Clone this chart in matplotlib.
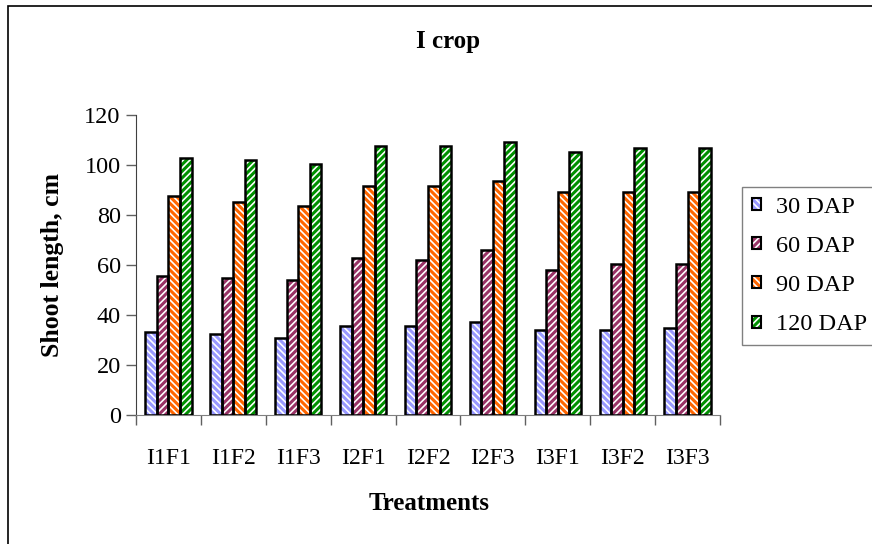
import numpy as np
import matplotlib
matplotlib.use('Agg')
import matplotlib.pyplot as plt
from matplotlib.patches import Rectangle, Patch

treatments = ['I1F1', 'I1F2', 'I1F3', 'I2F1', 'I2F2', 'I2F3', 'I3F1', 'I3F2', 'I3F3']
dap30 = [33.3, 32.4, 30.8, 35.6, 35.6, 37.3, 34.1, 34.1, 34.9]
dap60 = [55.7, 54.8, 53.9, 62.8, 62.0, 66.0, 58.0, 60.4, 60.4]
dap90 = [87.6, 85.2, 83.6, 91.6, 91.6, 93.5, 89.3, 89.3, 89.3]
dap120 = [102.8, 102.0, 100.4, 107.6, 107.7, 109.2, 105.2, 106.8, 106.8]
series_names = ['30 DAP', '60 DAP', '90 DAP', '120 DAP']

colors = ['#9999FF', '#993366', '#FF6600', '#009000']
hatches = ['\\\\\\\\\\', '/////', '\\\\\\\\\\', '/////']

plt.rcParams['font.family'] = ['Liberation Serif', 'DejaVu Serif']
plt.rcParams['hatch.linewidth'] = 2.2

fig = plt.figure(figsize=(8.72, 5.44), dpi=100, facecolor='white')
ax = fig.add_axes((136/872, 129/544, 584/872, 300/544))

# outer chart border (clipped at right/bottom like the reference)
fig.patches.append(Rectangle((8/872, -0.05), 1.1, 1 - 6/544 + 0.05, transform=fig.transFigure,
                             fill=False, edgecolor='black', linewidth=1.2))

x = np.arange(len(treatments))
w = 0.178
handles = []
for k, vals in enumerate([dap30, dap60, dap90, dap120]):
  pos = x + (k - 1.5)*w
  ax.bar(pos, vals, w, facecolor='white', edgecolor=colors[k], hatch=hatches[k], linewidth=0, zorder=2)
  ax.bar(pos, vals, w, fill=False, edgecolor='black', linewidth=1.8, zorder=3)
  h1 = Patch(facecolor='white', edgecolor=colors[k], hatch=hatches[k], linewidth=0)
  h2 = Patch(fill=False, edgecolor='black', linewidth=1.5)
  handles.append((h1, h2))

ax.set_xlim(-0.5, len(treatments) - 0.5)
ax.set_ylim(0, 120)
ax.set_yticks(np.arange(0, 121, 20))
ax.set_xticks(x, treatments)
ax.set_xticks(np.arange(-0.5, len(treatments)), minor=True)
ax.tick_params(axis='x', which='major', length=0, pad=24, labelsize=17)
ax.tick_params(axis='x', which='minor', length=7, color='#606060', width=1)
ax.tick_params(axis='y', length=7, color='#606060', width=1, labelsize=17.5, pad=4)
for s in ['top', 'right']:
  ax.spines[s].set_visible(False)
ax.spines['left'].set_color('#404040')
ax.spines['bottom'].set_color('#808080')

fig.text(448/872, 1 - 48/544, 'I crop', ha='center', va='baseline', fontsize=18, fontweight='bold')
fig.text(53/872, 1 - 265/544, 'Shoot length, cm', ha='center', va='center', rotation=90,
         fontsize=18.5, fontweight='bold')
fig.text(429/872, 1 - 510/544, 'Treatments', ha='center', va='baseline', fontsize=18, fontweight='bold')

leg = fig.legend(handles, series_names, loc='center left', bbox_to_anchor=(742/872, 1 - 266/544),
                 fontsize=17.5, frameon=True, fancybox=False, edgecolor='#606060',
                 handlelength=0.38, handleheight=0.38, handletextpad=0.6, labelspacing=0.75,
                 borderpad=0.4, borderaxespad=0)
leg.get_frame().set_linewidth(1)

fig.savefig('out.png', dpi=100, facecolor='white')
